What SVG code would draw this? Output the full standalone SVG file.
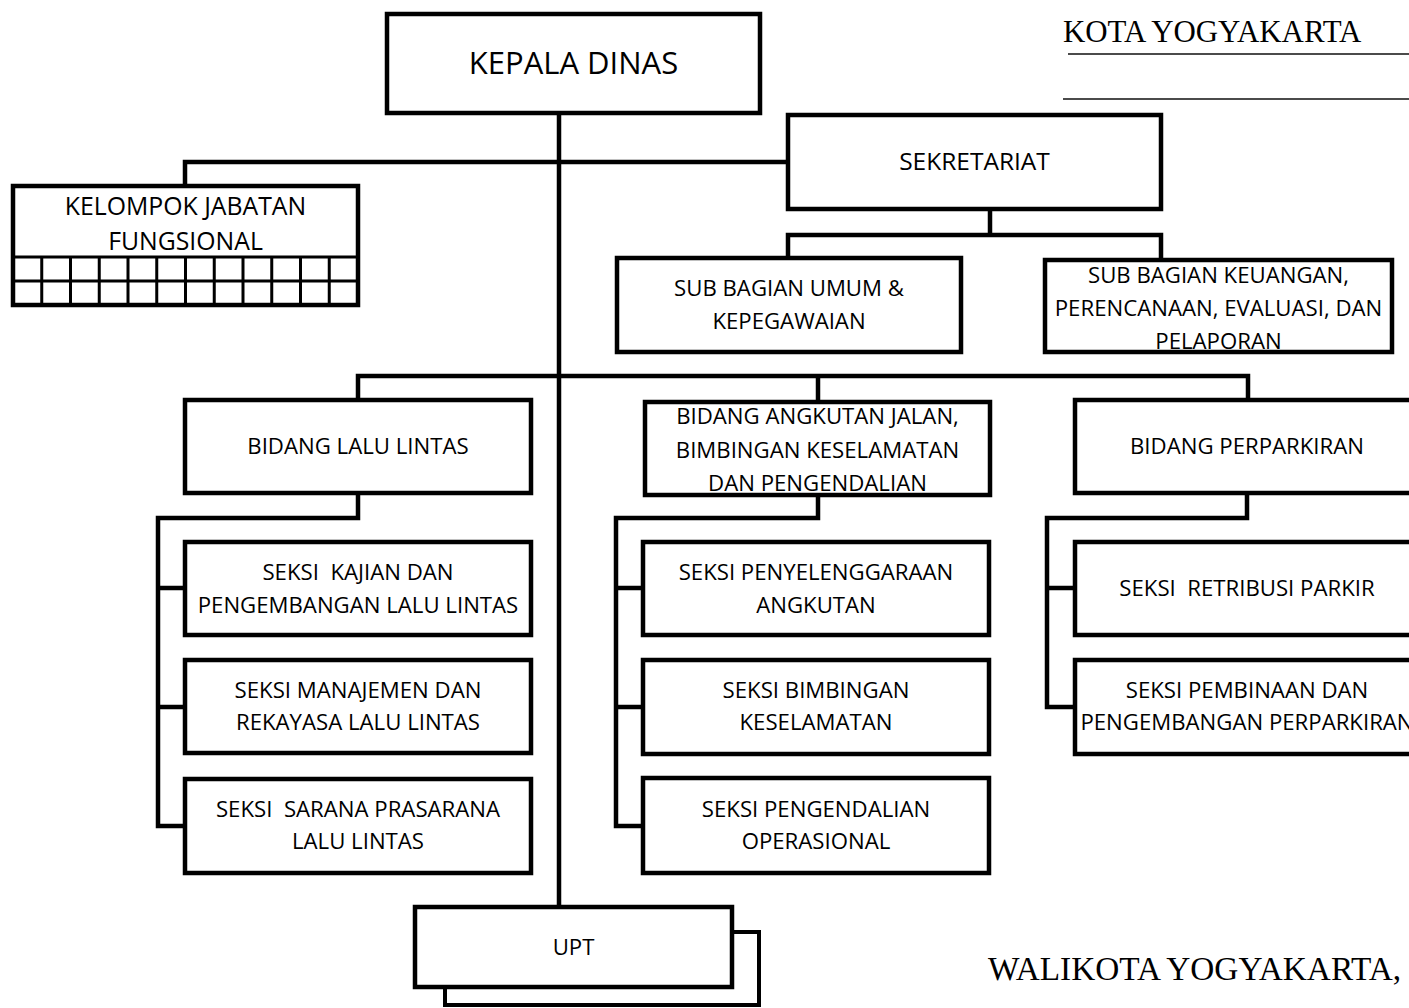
<svg xmlns="http://www.w3.org/2000/svg" width="1409" height="1008" viewBox="0 0 1409 1008">
<style>
.box{fill:#fff;stroke:#000;stroke-width:4.5}
.con{fill:none;stroke:#000;stroke-width:4.5}
.grid{fill:none;stroke:#000;stroke-width:3}
.t{font-family:"Open Sans","Noto Sans",sans-serif;font-size:22.2px;fill:#000;text-anchor:middle;white-space:pre}
.s{font-family:"Liberation Serif","Times New Roman",serif;fill:#000}
.rule{stroke:#111;stroke-width:1.6}
</style>
<rect width="1409" height="1008" fill="#fff"/>
<g id="connectors">
<path class="con" d="M559 113V907"/>
<path class="con" d="M185 186V162H788"/>
<path class="con" d="M990 209V235"/>
<path class="con" d="M788 258V235H1161V260"/>
<path class="con" d="M358 400V376H1248V400"/>
<path class="con" d="M818 376V402"/>
<path class="con" d="M358 493V518H158V826H185M158 588H185M158 707H185"/>
<path class="con" d="M818 495V518H616V826H643M616 588H643M616 707H643"/>
<path class="con" d="M1247 493V518H1047V707H1075M1047 588H1075"/>
</g>
<g id="kepala-dinas">
<rect class="box" x="387" y="14" width="373" height="99"/>
<text class="t" x="573.5" y="74" style="font-size:31px">KEPALA DINAS</text>
</g>
<g id="sekretariat">
<rect class="box" x="788" y="115" width="373" height="94"/>
<text class="t" x="974.5" y="170" style="font-size:24.5px">SEKRETARIAT</text>
</g>
<g id="kelompok-jabatan">
<rect class="box" x="13" y="186" width="345" height="119"/>
<text class="t" x="185.5" y="215" style="font-size:24.8px">KELOMPOK JABATAN</text>
<text class="t" x="185.5" y="250" style="font-size:24.8px">FUNGSIONAL</text>
<path class="grid" d="M13 257H358M13 281H358M41.75 257V305M70.5 257V305M99.25 257V305M128 257V305M156.75 257V305M185.5 257V305M214.25 257V305M243 257V305M271.75 257V305M300.5 257V305M329.25 257V305"/>
</g>
<g id="sub-umum">
<rect class="box" x="617" y="258" width="344" height="94"/>
<text class="t" x="789" y="296">SUB BAGIAN UMUM &amp;</text>
<text class="t" x="789" y="329">KEPEGAWAIAN</text>
</g>
<g id="sub-keuangan">
<rect class="box" x="1045" y="260" width="347" height="92"/>
<text class="t" x="1218.5" y="283">SUB BAGIAN KEUANGAN,</text>
<text class="t" x="1218.5" y="316">PERENCANAAN, EVALUASI, DAN</text>
<text class="t" x="1218.5" y="349">PELAPORAN</text>
</g>
<g id="bidang-lalu-lintas">
<rect class="box" x="185" y="400" width="346" height="93"/>
<text class="t" x="358" y="454">BIDANG LALU LINTAS</text>
</g>
<g id="bidang-angkutan">
<rect class="box" x="645" y="402" width="345" height="93"/>
<text class="t" x="817.5" y="424">BIDANG ANGKUTAN JALAN,</text>
<text class="t" x="817.5" y="458">BIMBINGAN KESELAMATAN</text>
<text class="t" x="817.5" y="491">DAN PENGENDALIAN</text>
</g>
<g id="bidang-perparkiran">
<rect class="box" x="1075" y="400" width="346" height="93"/>
<text class="t" x="1247" y="454">BIDANG PERPARKIRAN</text>
</g>
<g id="seksi-kajian">
<rect class="box" x="185" y="542" width="346" height="93"/>
<text class="t" x="358" y="580">SEKSI  KAJIAN DAN</text>
<text class="t" x="358" y="613">PENGEMBANGAN LALU LINTAS</text>
</g>
<g id="seksi-manajemen">
<rect class="box" x="185" y="660" width="346" height="93"/>
<text class="t" x="358" y="698">SEKSI MANAJEMEN DAN</text>
<text class="t" x="358" y="730">REKAYASA LALU LINTAS</text>
</g>
<g id="seksi-sarana">
<rect class="box" x="185" y="779" width="346" height="94"/>
<text class="t" x="358" y="817">SEKSI  SARANA PRASARANA</text>
<text class="t" x="358" y="849">LALU LINTAS</text>
</g>
<g id="seksi-penyelenggaraan">
<rect class="box" x="643" y="542" width="346" height="93"/>
<text class="t" x="816" y="580">SEKSI PENYELENGGARAAN</text>
<text class="t" x="816" y="613">ANGKUTAN</text>
</g>
<g id="seksi-bimbingan">
<rect class="box" x="643" y="660" width="346" height="94"/>
<text class="t" x="816" y="698">SEKSI BIMBINGAN</text>
<text class="t" x="816" y="730">KESELAMATAN</text>
</g>
<g id="seksi-pengendalian">
<rect class="box" x="643" y="778" width="346" height="95"/>
<text class="t" x="816" y="817">SEKSI PENGENDALIAN</text>
<text class="t" x="816" y="849">OPERASIONAL</text>
</g>
<g id="seksi-retribusi">
<rect class="box" x="1075" y="542" width="346" height="93"/>
<text class="t" x="1247" y="596">SEKSI  RETRIBUSI PARKIR</text>
</g>
<g id="seksi-pembinaan">
<rect class="box" x="1075" y="660" width="346" height="94"/>
<text class="t" x="1247" y="698">SEKSI PEMBINAAN DAN</text>
<text class="t" x="1247" y="730">PENGEMBANGAN PERPARKIRAN</text>
</g>
<g id="upt">
<rect class="box" x="445" y="932" width="314" height="73" style="stroke-width:4"/>
<rect class="box" x="415" y="907" width="317" height="80"/>
<text class="t" x="573.5" y="955">UPT</text>
</g>
<g id="header">
<text class="s" x="1063" y="42" style="font-size:30.9px">KOTA YOGYAKARTA</text>
<path class="rule" d="M1068 54H1409M1063 99H1409"/>
</g>
<g id="footer">
<text class="s" x="988" y="980" style="font-size:33.3px">WALIKOTA YOGYAKARTA,</text>
</g>
</svg>
